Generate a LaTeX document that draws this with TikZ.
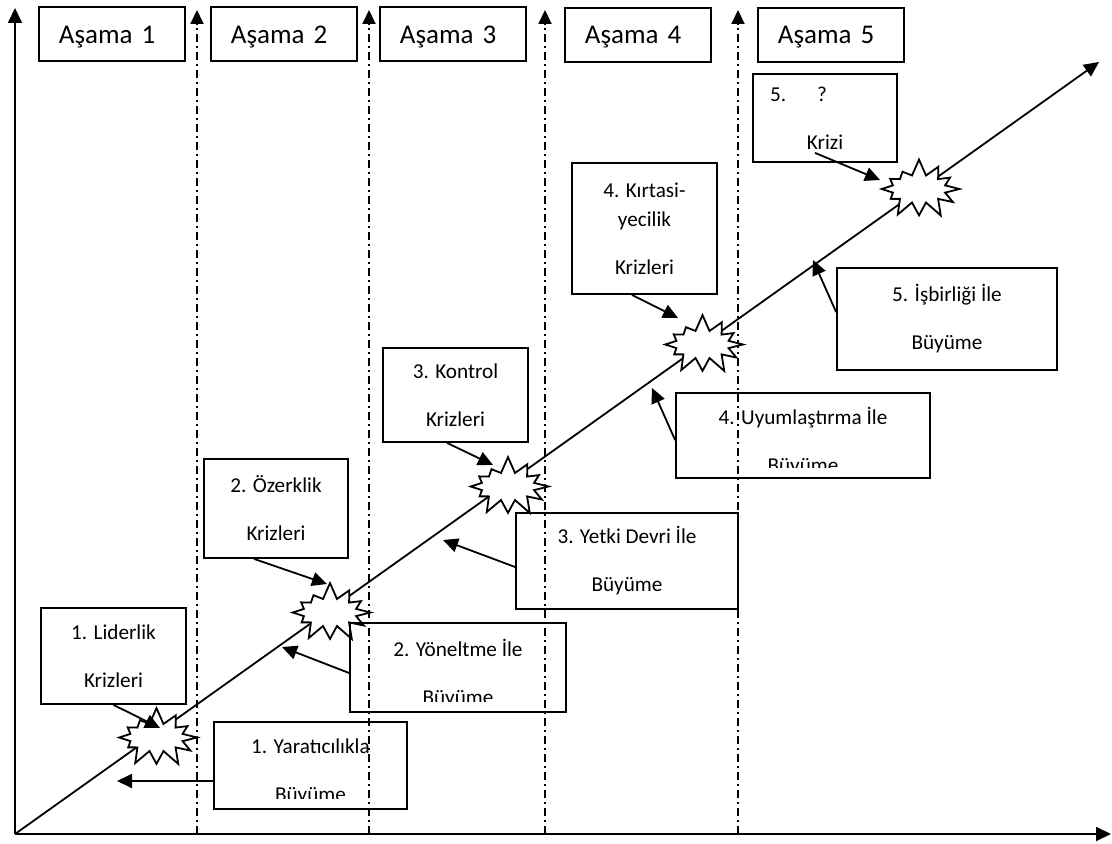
\documentclass[tikz,border=0pt]{standalone}
\usepackage{fontspec}
\setmainfont{Carlito}
\usetikzlibrary{arrows.meta,shapes.symbols}
\begin{document}
\begin{tikzpicture}[
   x=0.5pt,y=-0.5pt,
   box/.style={draw,line width=0.9pt,inner sep=0pt,font=\fontsize{10.6}{24}\selectfont,align=center},
   cutbox/.style={draw,line width=0.9pt,inner sep=0pt,
     path picture={\clip ([yshift=5.5pt]path picture bounding box.south west) rectangle (path picture bounding box.north east);
       \node[draw=none,font=\fontsize{10.6}{24}\selectfont,align=center] at ([yshift=-3pt]path picture bounding box.center) {#1};}},
   stage/.style={draw,line width=0.9pt,anchor=north west,minimum height=27pt,inner xsep=10pt,inner ysep=0pt,
     text width=53pt,align=left,text height=9pt,text depth=0pt,font=\fontsize{13.5}{16}\selectfont},
   burst/.style={starburst,draw,fill=white,line width=0.9pt,starburst points=12,starburst point height=8.5pt,
     random starburst=7,minimum width=44pt,minimum height=31pt,inner sep=0pt},
   arr/.style={-{Triangle[length=7.5pt,width=7pt]},line width=0.9pt},
   phase/.style={-{Triangle[length=7pt,width=6.5pt]},line width=0.9pt,dash pattern=on 4pt off 2pt on 1pt off 2pt}
]
   \useasboundingbox (0,0) rectangle (1112,844);
   \foreach \x in {197,369,545,738}
     \draw[phase] (\x,834) -- (\x,10);
   \coordinate (o) at (15,834);
   \coordinate (ytop) at (15,8);
   \coordinate (xend) at (1111,834);
   \coordinate (grow) at (1099,62);
   \draw[arr] (o) -- (ytop);
   \draw[arr] (o) -- (xend);
   \draw[arr] (o) -- (grow);

   \node[stage] (a1) at (38,6.5) {Aşama 1};
   \node[stage] (a2) at (210,6.5) {Aşama 2};
   \node[stage] (a3) at (379,6.5) {Aşama 3};
   \node[stage] (a4) at (564,7) {Aşama 4};
   \node[stage] (a5) at (757,7) {Aşama 5};

   \node[burst] (s1) at (156.5,737.5) {};
   \node[burst] (s2) at (330,612.5) {};
   \node[burst] (s3) at (508,486.5) {};
   \node[burst] (s4) at (702.5,344.5) {};
   \node[burst] (s5) at (919,189) {};

   \node[box,minimum width=72.5pt,minimum height=48pt] (k1) at (113.5,656) {1. Liderlik\\Krizleri};
   \node[box,minimum width=72pt,minimum height=49.5pt] (k2) at (276,508.5) {2. Özerklik\\Krizleri};
   \node[box,minimum width=72.5pt,minimum height=47pt] (k3) at (455.5,395) {3. Kontrol\\Krizleri};
   \node[box,minimum width=72.5pt,minimum height=65.5pt] (k4) at (644.5,228.5) {4. Kırtasi-\\[-9.5pt]yecilik\\Krizleri};
   \node[box,minimum width=72pt,minimum height=44pt] (k5) at (825,118) {\makebox[55pt][l]{5.\hspace{15.5pt}?}\\Krizi};

   \node[cutbox={1. Yaratıcılıkla\\Büyüme},minimum width=96.5pt,minimum height=43.5pt] (g1) at (310.5,765.5) {};
   \node[cutbox={2. Yöneltme İle\\Büyüme},minimum width=108pt,minimum height=44.5pt] (g2) at (458,667.5) {};
   \node[box,minimum width=111pt,minimum height=48pt] (g3) at (627,561) {3. Yetki Devri İle\\Büyüme};
   \node[cutbox={4. Uyumlaştırma İle\\Büyüme},minimum width=127pt,minimum height=42.5pt] (g4) at (803,435.5) {};
   \node[box,minimum width=110pt,minimum height=51pt] (g5) at (947,319) {5. İşbirliği İle\\Büyüme};

   \draw[arr] (k1.south) -- ([shift={(1.75pt,4.75pt)}]s1.center);
   \draw[arr] ([xshift=-11pt]k2.south) -- ([shift={(-1.5pt,14.25pt)}]s2.center);
   \draw[arr] ([xshift=-4.25pt]k3.south) -- ([shift={(-7.5pt,10.75pt)}]s3.center);
   \draw[arr] ([xshift=-6.25pt]k4.south) -- ([shift={(-12.25pt,13.25pt)}]s4.center);
   \draw[arr] ([shift={(-5pt,5pt)}]k5.south) -- ([shift={(-19.5pt,4.5pt)}]s5.center);

   \coordinate (e1) at (117,781);
   \coordinate (e2) at (282,647);
   \coordinate (e3) at (443,540);
   \coordinate (e4) at (652,388);
   \coordinate (e5) at (813,260);
   \draw[arr] ([yshift=-7.75pt]g1.west) -- (e1);
   \draw[arr] ([yshift=-2.75pt]g2.west) -- (e2);
   \draw[arr] ([yshift=-3pt]g3.west) -- (e3);
   \draw[arr] ([yshift=-2.25pt]g4.west) -- (e4);
   \draw[arr] ([yshift=3.5pt]g5.west) -- (e5);
\end{tikzpicture}
\end{document}
